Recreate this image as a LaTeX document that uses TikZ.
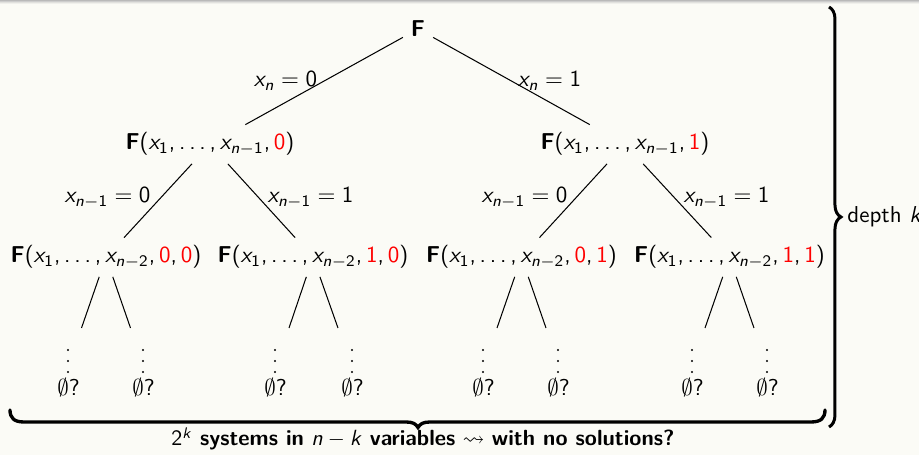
\documentclass[tikz,border=0pt]{standalone}
\usepackage{amssymb}
\usetikzlibrary{decorations.pathreplacing}
\DeclareSymbolFont{sfop}{OT1}{cmss}{m}{n}
\DeclareSymbolFont{sflet}{OT1}{cmss}{m}{sl}
\DeclareMathAlphabet{\mathbf}{OT1}{cmss}{bx}{n}
\DeclareMathSymbol{x}{\mathalpha}{sflet}{`x}
\DeclareMathSymbol{n}{\mathalpha}{sflet}{`n}
\DeclareMathSymbol{k}{\mathalpha}{sflet}{`k}
\DeclareMathSymbol{0}{\mathalpha}{sfop}{`0}
\DeclareMathSymbol{1}{\mathalpha}{sfop}{`1}
\DeclareMathSymbol{2}{\mathalpha}{sfop}{`2}
\DeclareMathSymbol{(}{\mathopen}{sfop}{`(}
\DeclareMathSymbol{)}{\mathclose}{sfop}{`)}
\DeclareMathSymbol{,}{\mathpunct}{sfop}{`,}
\DeclareMathSymbol{\ldotp}{\mathpunct}{sfop}{`.}
\newcommand\rd[1]{\textcolor{red}{#1}}
\definecolor{bgc}{RGB}{251,251,246}
\definecolor{t0}{RGB}{185,185,185}
\definecolor{t1}{RGB}{205,205,205}
\definecolor{t2}{RGB}{225,225,222}
\definecolor{t3}{RGB}{240,240,236}
\begin{document}
\begin{tikzpicture}[x=0.4348pt,y=-0.4348pt,
  font=\fontsize{10}{12}\sffamily\selectfont,
  tnode/.style={anchor=base},
  elab/.style={anchor=base, inner sep=0pt},
  conn/.style={line width=0.45pt},
  brc/.style={line width=1.3pt, decorate},
  brb/.style={line width=1.45pt, line cap=round},
  vdot/.style={fill=black},
  leaf/.style={anchor=base, inner sep=0pt}]
\useasboundingbox (0,0) rectangle (919,455);
\fill[bgc] (0,0) rectangle (919,455);
\fill[t0] (0,0) rectangle (919,1);
\fill[t1] (0,1) rectangle (919,2);
\fill[t2] (0,2) rectangle (919,3);
\fill[t3] (0,3) rectangle (919,4);
% tree nodes
\node[tnode] (root) at (418,37) {$\mathbf{F}$};
\node[tnode] (l1) at (210,150) {$\mathbf{F}(x_1,\ldots,x_{n-1},\rd{0})$};
\node[tnode] (r1) at (625,150) {$\mathbf{F}(x_1,\ldots,x_{n-1},\rd{1})$};
\node[tnode] (ll) at (106,263) {$\mathbf{F}(x_1,\ldots,x_{n-2},\rd{0},\rd{0})$};
\node[tnode] (lr) at (313,263) {$\mathbf{F}(x_1,\ldots,x_{n-2},\rd{1},\rd{0})$};
\node[tnode] (rl) at (521.5,263) {$\mathbf{F}(x_1,\ldots,x_{n-2},\rd{0},\rd{1})$};
\node[tnode] (rr) at (729.5,263) {$\mathbf{F}(x_1,\ldots,x_{n-2},\rd{1},\rd{1})$};
% edges
\draw[conn] (root) -- (l1);
\draw[conn] (root) -- (r1);
\draw[conn] (l1) -- (ll);
\draw[conn] (l1) -- (lr);
\draw[conn] (r1) -- (rl);
\draw[conn] (r1) -- (rr);
% edge labels
\node[elab] (e1) at (285.5,87) {$x_n = 0$};
\node[elab] (e2) at (549.5,87) {$x_n = 1$};
\node[elab] (e3) at (107.5,203) {$x_{n-1} = 0$};
\node[elab] (e4) at (310.5,203) {$x_{n-1} = 1$};
\node[elab] (e5) at (524.5,203) {$x_{n-1} = 0$};
\node[elab] (e6) at (726.5,203) {$x_{n-1} = 1$};
% short branches
\coordinate (lla) at (81.5,328); \coordinate (llb) at (130.5,328);
\coordinate (lra) at (289,328);  \coordinate (lrb) at (338,328);
\coordinate (rla) at (497,328);  \coordinate (rlb) at (546,328);
\coordinate (rra) at (705,328);  \coordinate (rrb) at (754,328);
\draw[conn] (ll) -- (lla); \draw[conn] (ll) -- (llb);
\draw[conn] (lr) -- (lra); \draw[conn] (lr) -- (lrb);
\draw[conn] (rl) -- (rla); \draw[conn] (rl) -- (rlb);
\draw[conn] (rr) -- (rra); \draw[conn] (rr) -- (rrb);
% vertical dots and leaves
\foreach \q in {68,143,275,352,483,558,692,767}{
  \foreach \yy in {350,361,372}{
    \fill[vdot] (\q,\yy) circle (0.45pt);
  }
}
\foreach \p/\q in {w1/68.5,w2/143.5,w3/275.5,w4/352.5,w5/483.5,w6/558.5,w7/692.5,w8/767.5}{
  \node[leaf] (\p) at (\q,396) {$\emptyset$?};
}
% braces
\draw[brc, decoration={brace, amplitude=5.2pt}] (829,7) -- (829,427);
\draw[brb] (10,410) .. controls (10,418) and (14,422) .. (24,422)
  -- (406,422) .. controls (413,422) and (416,424) .. (418,427.5)
  .. controls (420,424) and (423,422) .. (430,422)
  -- (811,422) .. controls (821,422) and (825,418) .. (825,410);
\node[anchor=base west, inner sep=0pt] (dep) at (847,223) {depth $k$};
\node[anchor=base, inner sep=0pt, scale=0.955] (cap) at (423,446) {$2^k$ \textbf{systems in} $n-k$ \textbf{variables} $\leadsto$ \textbf{with no solutions?}};
\end{tikzpicture}
\end{document}
